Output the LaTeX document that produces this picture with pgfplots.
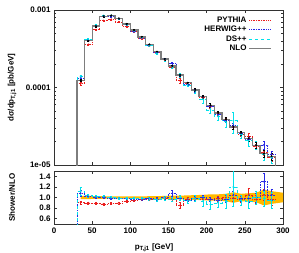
\documentclass[border=0pt]{standalone}
\usepackage{pgfplots}
\pgfplotsset{compat=1.18}
\usepackage{pgfplotstable}
\usepackage{fontspec}
\setmainfont{Liberation Sans}

\definecolor{pyc}{RGB}{235,30,30}
\definecolor{hwc}{RGB}{40,40,230}
\definecolor{dsc}{RGB}{0,225,235}
\definecolor{nloc}{RGB}{125,125,125}
\definecolor{bandc}{RGB}{255,185,0}
\definecolor{axc}{RGB}{50,50,50}

% step tables (left bin edges)
\pgfplotstableread{
xe nlo py hw ds
30 1e-7 1e-7 1e-7 1e-7
30 1.23e-4 1.12e-4 1.33e-4 1.38e-4
40 4.0e-4 3.6e-4 4.08e-4 4.16e-4
50 6.2e-4 5.58e-4 6.26e-4 6.39e-4
60 8.3e-4 7.30e-4 8.3e-4 8.47e-4
70 8.5e-4 7.57e-4 8.33e-4 8.5e-4
80 7.8e-4 7.02e-4 7.72e-4 7.72e-4
90 6.6e-4 6.14e-4 6.47e-4 6.53e-4
100 5.5e-4 5.23e-4 5.34e-4 5.39e-4
110 4.5e-4 4.32e-4 4.37e-4 4.41e-4
120 3.6e-4 3.46e-4 3.53e-4 3.49e-4
130 2.9e-4 2.81e-4 2.81e-4 2.78e-4
140 2.33e-4 2.28e-4 2.33e-4 2.31e-4
150 1.9e-4 1.82e-4 2.05e-4 1.84e-4
160 1.45e-4 1.23e-4 1.42e-4 1.45e-4
170 1.15e-4 1.12e-4 1.09e-4 1.08e-4
180 9.3e-5 9.2e-5 9.11e-5 9.11e-5
190 7.6e-5 7.37e-5 7.6e-5 7.07e-5
200 5.9e-5 5.66e-5 5.72e-5 5.13e-5
210 4.7e-5 4.61e-5 4.47e-5 4.23e-5
220 3.9e-5 3.9e-5 3.74e-5 3.63e-5
230 3.1e-5 3.07e-5 3.26e-5 3.72e-5
240 2.6e-5 2.52e-5 2.55e-5 2.47e-5
250 2.2e-5 2.31e-5 2.16e-5 2.05e-5
260 1.8e-5 1.73e-5 1.8e-5 1.8e-5
270 1.4e-5 1.47e-5 1.82e-5 1.37e-5
280 1.3e-5 1.25e-5 1.37e-5 1.24e-5
290 1.3e-5 1.25e-5 1.37e-5 1.24e-5
290 1e-7 1e-7 1e-7 1e-7
}\steps

% points at bin centres, relative errors, ratios
\pgfplotstableread{
x nlo py hw ds enlo epy ehw eds rpy rhw rds
35 1.23e-4 1.12e-4 1.33e-4 1.38e-4 0.03 0.03 0.05 0.06 0.91 1.08 1.12
45 4.0e-4 3.6e-4 4.08e-4 4.16e-4 0.02 0.02 0.02 0.03 0.90 1.02 1.04
55 6.2e-4 5.58e-4 6.26e-4 6.39e-4 0.02 0.02 0.02 0.02 0.90 1.01 1.03
65 8.3e-4 7.30e-4 8.3e-4 8.47e-4 0.02 0.02 0.02 0.02 0.88 1.00 1.02
75 8.5e-4 7.57e-4 8.33e-4 8.5e-4 0.02 0.02 0.02 0.02 0.89 0.98 1.00
85 7.8e-4 7.02e-4 7.72e-4 7.72e-4 0.02 0.02 0.02 0.02 0.90 0.99 0.99
95 6.6e-4 6.14e-4 6.47e-4 6.53e-4 0.02 0.02 0.02 0.02 0.93 0.98 0.99
105 5.5e-4 5.23e-4 5.34e-4 5.39e-4 0.02 0.02 0.02 0.02 0.95 0.97 0.98
115 4.5e-4 4.32e-4 4.37e-4 4.41e-4 0.02 0.02 0.02 0.02 0.96 0.97 0.98
125 3.6e-4 3.46e-4 3.53e-4 3.49e-4 0.02 0.02 0.02 0.03 0.96 0.98 0.97
135 2.9e-4 2.81e-4 2.81e-4 2.78e-4 0.02 0.02 0.03 0.03 0.97 0.97 0.96
145 2.33e-4 2.28e-4 2.33e-4 2.31e-4 0.03 0.03 0.03 0.04 0.98 1.00 0.99
155 1.9e-4 1.82e-4 2.05e-4 1.84e-4 0.03 0.03 0.05 0.04 0.96 1.08 0.97
165 1.45e-4 1.23e-4 1.42e-4 1.45e-4 0.03 0.07 0.03 0.05 0.85 0.98 1.00
175 1.15e-4 1.12e-4 1.09e-4 1.08e-4 0.03 0.03 0.03 0.05 0.97 0.95 0.94
185 9.3e-5 9.2e-5 9.11e-5 9.11e-5 0.04 0.04 0.04 0.06 0.99 0.98 0.98
195 7.6e-5 7.37e-5 7.6e-5 7.07e-5 0.04 0.04 0.04 0.10 0.97 1.00 0.93
205 5.9e-5 5.66e-5 5.72e-5 5.13e-5 0.05 0.04 0.04 0.10 0.96 0.97 0.87
215 4.7e-5 4.61e-5 4.47e-5 4.23e-5 0.05 0.05 0.05 0.10 0.98 0.95 0.90
225 3.9e-5 3.9e-5 3.74e-5 3.63e-5 0.05 0.05 0.05 0.15 1.00 0.96 0.93
235 3.1e-5 3.07e-5 3.26e-5 3.72e-5 0.06 0.06 0.06 0.30 0.99 1.05 1.20
245 2.6e-5 2.52e-5 2.55e-5 2.47e-5 0.06 0.06 0.06 0.10 0.97 0.98 0.95
255 2.2e-5 2.31e-5 2.16e-5 2.05e-5 0.07 0.12 0.07 0.15 1.05 0.98 0.93
265 1.8e-5 1.73e-5 1.8e-5 1.8e-5 0.08 0.08 0.08 0.12 0.96 1.00 1.00
275 1.4e-5 1.47e-5 1.82e-5 1.37e-5 0.10 0.10 0.12 0.15 1.05 1.30 0.98
285 1.3e-5 1.25e-5 1.37e-5 1.24e-5 0.10 0.10 0.10 0.15 0.96 1.05 0.95
}\pts

% ratio steps
\pgfplotstableread{
xe rpy rhw rds
30 0 0 0
30 0.91 1.08 1.12
40 0.90 1.02 1.04
50 0.90 1.01 1.03
60 0.88 1.00 1.02
70 0.89 0.98 1.00
80 0.90 0.99 0.99
90 0.93 0.98 0.99
100 0.95 0.97 0.98
110 0.96 0.97 0.98
120 0.96 0.98 0.97
130 0.97 0.97 0.96
140 0.98 1.00 0.99
150 0.96 1.08 0.97
160 0.85 0.98 1.00
170 0.97 0.95 0.94
180 0.99 0.98 0.98
190 0.97 1.00 0.93
200 0.96 0.97 0.87
210 0.98 0.95 0.90
220 1.00 0.96 0.93
230 0.99 1.05 1.20
240 0.97 0.98 0.95
250 1.05 0.98 0.93
260 0.96 1.00 1.00
270 1.05 1.30 0.98
280 0.96 1.05 0.95
290 0.96 1.05 0.95
}\rsteps

\pgfplotsset{
  myaxis/.style={
    scale only axis, width=229pt,
    xmin=0, xmax=300, xtick={0,50,...,300},
    axis line style={line width=0.9pt, axc},
    tick align=inside, tick style={axc, line width=0.5pt},
    major tick length=3pt, minor tick length=1.6pt,
    tick label style={font=\bfseries\fontsize{8}{9}\selectfont},
    label style={font=\bfseries\fontsize{8}{9}\selectfont},
    /pgf/number format/assume math mode=true,
    clip=true,
  },
  errstyle/.style={error bars/.cd, y dir=both, y explicit relative,
    error bar style={#1, line width=0.5pt},
    error mark options={#1, mark size=1pt, rotate=90}},
}

\begin{document}
\begin{tikzpicture}
\begin{axis}[myaxis,
  height=155pt,
  ymode=log, ymin=1e-5, ymax=1e-3,
  ytick={1e-5,1e-4,1e-3}, yticklabels={1e-05,0.0001,0.001},
  xticklabels={},
  ylabel={dσ/dp\textsubscript{T,j1} [pb/GeV]},
  ylabel style={at={(axis description cs:-0.183,0.5)}, anchor=center},
  legend style={at={(0.965,0.985)}, anchor=north east, draw=none, fill=none,
    font=\bfseries\fontsize{8}{9}\selectfont, row sep=-1.5pt,
    /tikz/every even column/.append style={column sep=2pt}},
  legend cell align=right, legend plot pos=right,
  legend image code/.code={\draw[#1, sharp plot] (0pt,0pt) -- (22pt,0pt);},
]
\addplot[const plot mark left, color=pyc, densely dotted, line width=0.7pt] table[x=xe, y=py] {\steps};
\addlegendentry{PYTHIA}
\addplot[const plot mark left, color=hwc, densely dotted, line width=0.7pt] table[x=xe, y=hw] {\steps};
\addlegendentry{HERWIG++}
\addplot[const plot mark left, color=dsc, dashed, line width=0.7pt] table[x=xe, y=ds] {\steps};
\addlegendentry{DS++}
\addplot[const plot mark left, color=nloc, line width=1.3pt] table[x=xe, y=nlo] {\steps};
\addlegendentry{NLO}

\addplot[forget plot, only marks, mark=*, mark size=0.7pt, pyc, errstyle=pyc] table[x=x, y=py, y error=epy] {\pts};
\addplot[forget plot, only marks, mark=*, mark size=0.7pt, hwc, errstyle=hwc] table[x=x, y=hw, y error=ehw] {\pts};
\addplot[forget plot, only marks, mark=*, mark size=0.7pt, dsc, errstyle=dsc] table[x=x, y=ds, y error=eds] {\pts};
\addplot[forget plot, only marks, mark=*, mark size=0.8pt, black, errstyle=black] table[x=x, y=nlo, y error=enlo] {\pts};
\end{axis}

\begin{axis}[myaxis,
  at={(0,-6pt)}, anchor=north west,
  height=53pt,
  ymin=0.5, ymax=1.5, ytick={0.6,0.8,...,1.41},
  yticklabel style={/pgf/number format/.cd, fixed, fixed zerofill, precision=1},
  ylabel={Shower/NLO},
  ylabel style={at={(axis description cs:-0.183,0.5)}, anchor=center},
  xlabel={p\textsubscript{T,j1} [GeV]},
  xlabel style={at={(axis description cs:0.437,-0.45)}, anchor=center},
]
\addplot[fill=bandc, draw=none] coordinates {
(35,1.03) (45,1.03) (55,1.025) (65,1.025) (75,1.02) (85,1.02) (95,1.02) (105,1.02)
(115,1.02) (125,1.025) (135,1.025) (145,1.03) (155,1.035) (165,1.035) (175,1.04)
(185,1.045) (195,1.05) (205,1.06) (215,1.06) (225,1.07) (235,1.10) (245,1.07)
(255,1.08) (265,1.09) (275,1.15) (285,1.12) (295,1.10) (300,1.09)
(300,0.91) (295,0.90) (285,0.88) (275,0.85) (265,0.91) (255,0.92) (245,0.93)
(235,0.90) (225,0.93) (215,0.94) (205,0.94) (195,0.95) (185,0.955) (175,0.96)
(165,0.965) (155,0.965) (145,0.97) (135,0.975) (125,0.975) (115,0.98) (105,0.98)
(95,0.98) (85,0.98) (75,0.98) (65,0.975) (55,0.975) (45,0.97) (35,0.97)
} -- cycle;

\addplot[const plot mark left, pyc, densely dotted, line width=0.6pt] table[x=xe, y=rpy] {\rsteps};
\addplot[const plot mark left, hwc, densely dotted, line width=0.6pt] table[x=xe, y=rhw] {\rsteps};
\addplot[const plot mark left, dsc, dashed, line width=0.6pt] table[x=xe, y=rds] {\rsteps};

\addplot[only marks, mark=*, mark size=0.7pt, pyc, errstyle=pyc] table[x=x, y=rpy, y error=epy] {\pts};
\addplot[only marks, mark=*, mark size=0.7pt, hwc, errstyle=hwc] table[x=x, y=rhw, y error=ehw] {\pts};
\addplot[only marks, mark=*, mark size=0.7pt, dsc, errstyle=dsc] table[x=x, y=rds, y error=eds] {\pts};
\end{axis}

\pgfresetboundingbox
\path[use as bounding box] (-54pt,-87pt) rectangle (245pt,165pt);
\end{tikzpicture}
\end{document}
